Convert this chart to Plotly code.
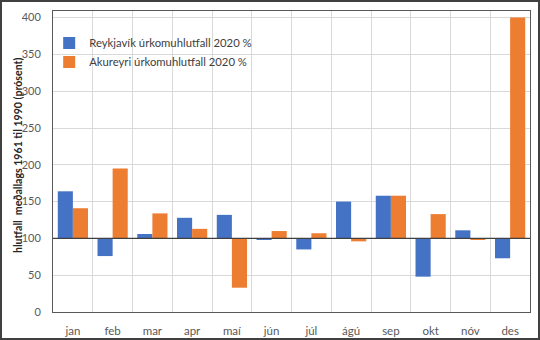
import plotly.graph_objects as go

months = ["jan", "feb", "mar", "apr", "maí", "jún", "júl", "ágú", "sep", "okt", "nóv", "des"]
reykjavik = [164, 76, 106, 128, 132, 98, 85, 150, 158, 48, 111, 73]
akureyri = [141, 195, 134, 113, 33, 110, 107, 96, 158, 133, 98, 400]
series_names = ["Reykjavík úrkomuhlutfall 2020 %", "Akureyri úrkomuhlutfall 2020 %"]
y_title = "<b>hlutfall  meðallags 1961 til 1990 (prósent)</b>"
baseline = 100

colors = ["#4472C4", "#ED7D31"]
font_family = "Lato, 'Open Sans', sans-serif"

fig = go.Figure()
for name, vals, col in zip(series_names, [reykjavik, akureyri], colors):
    fig.add_trace(go.Bar(
        x=months,
        y=[v - baseline for v in vals],
        base=baseline,
        name=name,
        marker=dict(color=col, line=dict(width=0)),
    ))

W, H = 540, 340
ml, mr, mt, mb = 53, 10, 11, 28
pw, ph = W - ml - mr, H - mt - mb

fig.update_layout(
    width=W, height=H,
    margin=dict(l=ml, r=mr, t=mt, b=mb, autoexpand=False),
    paper_bgcolor="white",
    plot_bgcolor="white",
    barmode="group",
    bargap=0.24,
    bargroupgap=0,
    font=dict(family=font_family, size=11, color="#595959"),
    showlegend=True,
    legend=dict(
        x=-0.008, y=0.942, xanchor="left", yanchor="top",
        bgcolor="rgba(0,0,0,0)",
        font=dict(size=11.3, color="#404040"),
        itemwidth=30,
        tracegroupgap=2,
        traceorder="normal",
    ),
    xaxis=dict(
        type="category",
        tickson="boundaries",
        automargin=False,
        showgrid=True, gridcolor="#D9D9D9", gridwidth=1,
        showline=True, linecolor="#595959", linewidth=1, mirror=True,
        ticks="", ticklen=0,
        tickfont=dict(size=11.5, color="#595959"),
        ticklabelstandoff=8,
    ),
    yaxis=dict(
        range=[0, 409],
        automargin=False,
        tickmode="array",
        tickvals=[0, 50, 100, 150, 200, 250, 300, 350, 400],
        showgrid=True, gridcolor="#D9D9D9", gridwidth=1,
        zeroline=False,
        showline=True, linecolor="#595959", linewidth=1, mirror=True,
        ticks="", ticklabelstandoff=9,
        tickfont=dict(size=11, color="#595959"),
    ),
    annotations=[
        dict(text=y_title, xref="paper", yref="paper",
             x=(18 - ml) / pw, y=(H - mb - 156) / ph,
             xanchor="center", yanchor="middle", textangle=-90,
             showarrow=False, font=dict(size=10.6, color="#262626")),
    ],
    shapes=[
        # category axis crossing at the baseline
        dict(type="line", xref="paper", yref="y", x0=0, x1=1, y0=baseline, y1=baseline,
             line=dict(color="#404040", width=1.2), layer="above"),
        # outer chart border
        dict(type="rect", xref="paper", yref="paper",
             x0=-(ml - 1) / pw, x1=1 + (mr - 1) / pw,
             y0=-(mb - 1) / ph, y1=1 + (mt - 1) / ph,
             line=dict(color="#404040", width=2)),
    ],
)

fig.write_html("out.html")
